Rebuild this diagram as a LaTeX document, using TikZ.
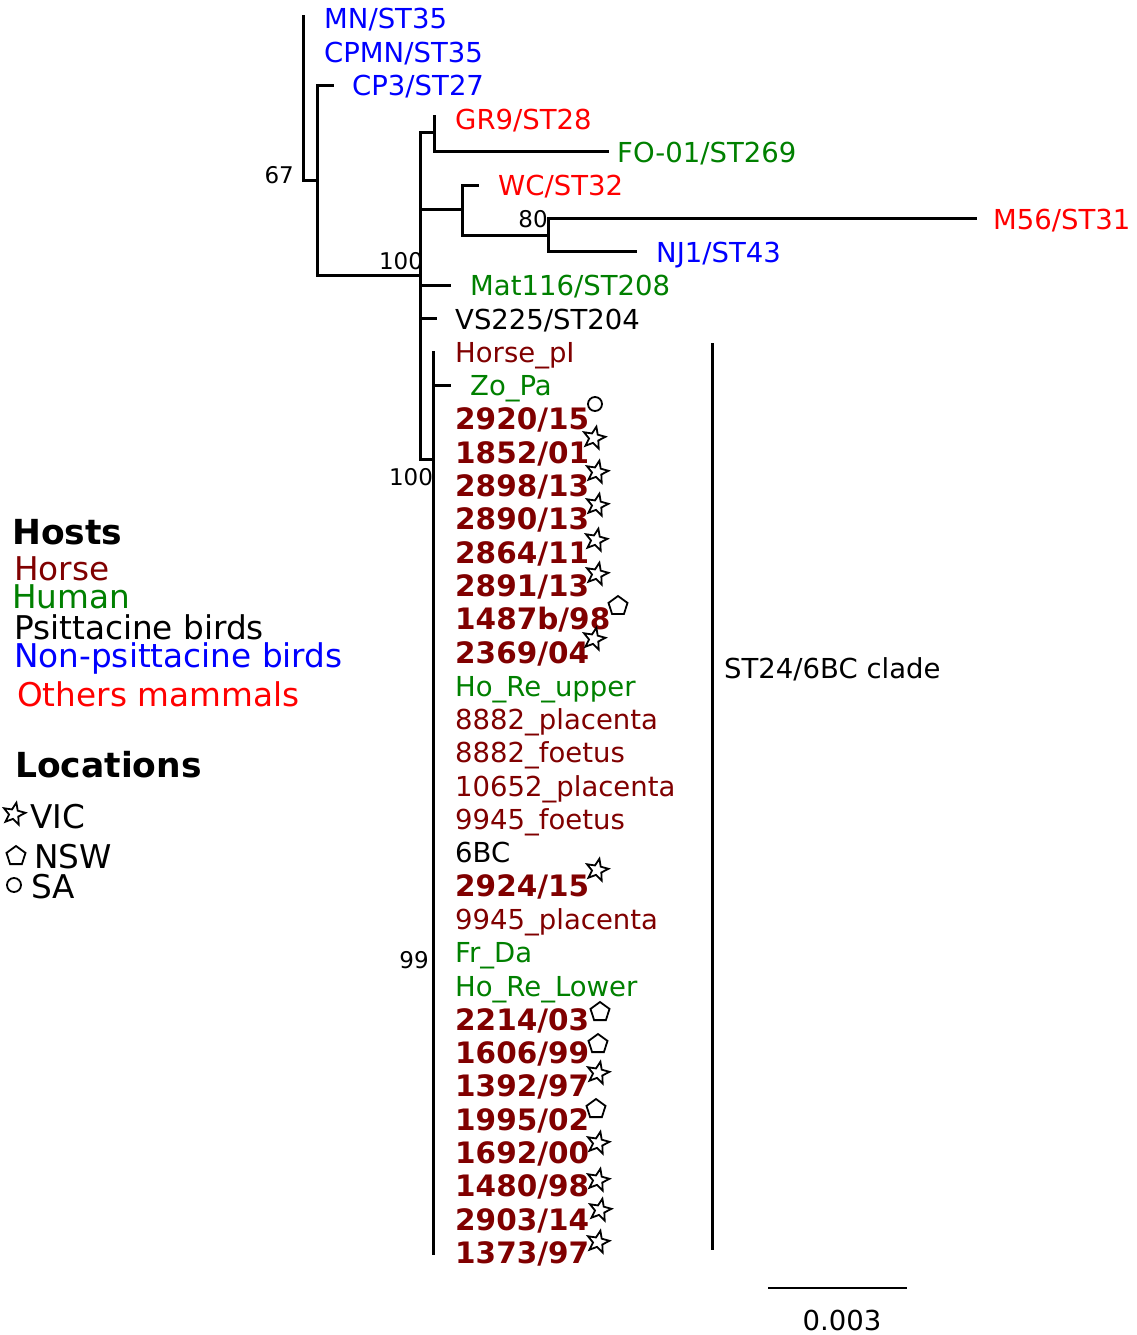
\documentclass[tikz,border=0pt]{standalone}
\usepackage{fontspec}
\setmainfont{DejaVu Sans}
\usetikzlibrary{shapes.geometric}
\definecolor{cblue}{RGB}{0,0,255}
\definecolor{cred}{RGB}{255,0,0}
\definecolor{cgreen}{RGB}{0,128,0}
\definecolor{chorse}{RGB}{128,0,0}
\begin{document}
\begin{tikzpicture}[x=1pt,y=-1pt,
  brl/.style={line width=3pt, line cap=rect, line join=miter},
  lf/.style={anchor=base west, inner sep=0pt, font=\fontsize{27.5}{30}\selectfont},
  bl/.style={anchor=base west, inner sep=0pt, font=\fontsize{29.5}{32}\selectfont\bfseries, text=chorse},
  boot/.style={inner sep=0pt, font=\fontsize{23}{26}\selectfont},
  leg/.style={anchor=base west, inner sep=0pt, font=\fontsize{32.7}{36}\selectfont},
  leghead/.style={anchor=base west, inner sep=0pt, font=\fontsize{34.5}{38}\selectfont\bfseries},
  vicmark/.style={star, star points=5, star point ratio=2.3, minimum size=23pt, inner sep=0pt, draw, line width=1.8pt, rotate=-12},
  nswmark/.style={regular polygon, regular polygon sides=5, minimum size=20pt, inner sep=0pt, draw, line width=1.8pt},
  samark/.style={circle, minimum size=14pt, inner sep=0pt, draw, line width=1.8pt},
]
\useasboundingbox[fill=white] (0,0) rectangle (1137,1335);

% ---------- tree coordinates ----------
\coordinate (tMN) at (303,17);
\coordinate (root) at (303,180);
\coordinate (n67) at (317,180);
\coordinate (tCP3) at (332,86);
\coordinate (n67b) at (317,275);
\coordinate (n100a) at (420,275);
\coordinate (vtop) at (420,133);
\coordinate (vbot) at (420,459);
\coordinate (nGRa) at (434,133);
\coordinate (tGR9) at (434,117);
\coordinate (nGRb) at (434,151);
\coordinate (tFO) at (607,151);
\coordinate (nWCa) at (420,209);
\coordinate (nWC) at (462,209);
\coordinate (tWC) at (477,185);
\coordinate (nWCb) at (462,235);
\coordinate (n80) at (548,235);
\coordinate (tM56) at (975,218);
\coordinate (n80b) at (548,251);
\coordinate (tNJ1) at (635,251);
\coordinate (nMat) at (420,285);
\coordinate (tMat) at (449,285);
\coordinate (nVS) at (420,318);
\coordinate (tVS) at (435,318);
\coordinate (n100b) at (433,459);
\coordinate (ctop) at (433,352);
\coordinate (cbot) at (433,1253);
\coordinate (nZo) at (433,385);
\coordinate (tZo) at (449,385);

% ---------- branches ----------
\draw[brl] (tMN) -- (root) -- (n67);
\draw[brl] (tCP3) -| (n67b) -- (n100a);
\draw[brl] (vtop) -- (vbot) -- (n100b);
\draw[brl] (vtop) -- (nGRa);
\draw[brl] (tGR9) -- (nGRb) -- (tFO);
\draw[brl] (nWCa) -- (nWC);
\draw[brl] (tWC) -| (nWCb) -- (n80);
\draw[brl] (tM56) -| (n80b) -- (tNJ1);
\draw[brl] (nMat) -- (tMat);
\draw[brl] (nVS) -- (tVS);
\draw[brl] (ctop) -- (cbot);
\draw[brl] (nZo) -- (tZo);

% ---------- bootstrap values ----------
\node[boot, anchor=east] (b67) at (294,175) {67};
\node[boot] (b100a) at (401,261) {100};
\node[boot] (b80) at (533,219) {80};
\node[boot] (b100b) at (411,477) {100};
\node[boot] (b99) at (414,960) {99};

% ---------- leaf labels ----------
\node[lf, text=cblue] (L0) at (324,{29+33.35*0}) {MN/ST35};
\node[lf, text=cblue] (L1) at (324,{29+33.35*1}) {CPMN/ST35};
\node[lf, text=cblue] (L2) at (352,{29+33.35*2}) {CP3/ST27};
\node[lf, text=cred] (L3) at (455,{29+33.35*3}) {GR9/ST28};
\node[lf, text=cgreen] (L4) at (617,{29+33.35*4}) {FO-01/ST269};
\node[lf, text=cred] (L5) at (498,{29+33.35*5}) {WC/ST32};
\node[lf, text=cred] (L6) at (993,{29+33.35*6}) {M56/ST31};
\node[lf, text=cblue] (L7) at (656,{29+33.35*7}) {NJ1/ST43};
\node[lf, text=cgreen] (L8) at (470,{29+33.35*8}) {Mat116/ST208};
\node[lf, text=black] (L9) at (455,{29+33.35*9}) {VS225/ST204};
\node[lf, text=chorse] (L10) at (455,{29+33.35*10}) {Horse\_pI};
\node[lf, text=cgreen] (L11) at (470,{29+33.35*11}) {Zo\_Pa};
\node[bl] (L12) at (455,{29.5+33.35*12}) {2920/15};
\node[bl] (L13) at (455,{29.5+33.35*13}) {1852/01};
\node[bl] (L14) at (455,{29.5+33.35*14}) {2898/13};
\node[bl] (L15) at (455,{29.5+33.35*15}) {2890/13};
\node[bl] (L16) at (455,{29.5+33.35*16}) {2864/11};
\node[bl] (L17) at (455,{29.5+33.35*17}) {2891/13};
\node[bl] (L18) at (455,{29.5+33.35*18}) {1487b/98};
\node[bl] (L19) at (455,{29.5+33.35*19}) {2369/04};
\node[lf, text=cgreen] (L20) at (455,{29+33.35*20}) {Ho\_Re\_upper};
\node[lf, text=chorse] (L21) at (455,{29+33.35*21}) {8882\_placenta};
\node[lf, text=chorse] (L22) at (455,{29+33.35*22}) {8882\_foetus};
\node[lf, text=chorse] (L23) at (455,{29+33.35*23}) {10652\_placenta};
\node[lf, text=chorse] (L24) at (455,{29+33.35*24}) {9945\_foetus};
\node[lf, text=black] (L25) at (455,{29+33.35*25}) {6BC};
\node[bl] (L26) at (455,{29.5+33.35*26}) {2924/15};
\node[lf, text=chorse] (L27) at (455,{29+33.35*27}) {9945\_placenta};
\node[lf, text=cgreen] (L28) at (455,{29+33.35*28}) {Fr\_Da};
\node[lf, text=cgreen] (L29) at (455,{29+33.35*29}) {Ho\_Re\_Lower};
\node[bl] (L30) at (455,{29.5+33.35*30}) {2214/03};
\node[bl] (L31) at (455,{29.5+33.35*31}) {1606/99};
\node[bl] (L32) at (455,{29.5+33.35*32}) {1392/97};
\node[bl] (L33) at (455,{29.5+33.35*33}) {1995/02};
\node[bl] (L34) at (455,{29.5+33.35*34}) {1692/00};
\node[bl] (L35) at (455,{29.5+33.35*35}) {1480/98};
\node[bl] (L36) at (455,{29.5+33.35*36}) {2903/14};
\node[bl] (L37) at (455,{29.5+33.35*37}) {1373/97};

% ---------- location marks ----------
\node[samark] (m12) at (595,404) {};
\node[vicmark] (m13) at (594,438) {};
\node[vicmark] (m14) at (597,472) {};
\node[vicmark] (m15) at (597,505) {};
\node[vicmark] (m16) at (596,540) {};
\node[vicmark] (m17) at (597,574) {};
\node[nswmark] (m18) at (618,606) {};
\node[vicmark] (m19) at (594,639) {};
\node[vicmark] (m26) at (597,870) {};
\node[nswmark] (m30) at (600,1012) {};
\node[nswmark] (m31) at (598,1044) {};
\node[vicmark] (m32) at (598,1073) {};
\node[nswmark] (m33) at (596,1109) {};
\node[vicmark] (m34) at (598,1143) {};
\node[vicmark] (m35) at (598,1180) {};
\node[vicmark] (m36) at (600,1210) {};
\node[vicmark] (m37) at (598,1242) {};

% ---------- clade bar ----------
\coordinate (cbT) at (712,343);
\coordinate (cbB) at (712,1250);
\draw[line width=3pt] (cbT) -- (cbB);
\node[lf] (clade) at (724,678) {ST24/6BC clade};

% ---------- scale bar ----------
\coordinate (sbL) at (768,1288);
\coordinate (sbR) at (907,1288);
\draw[line width=2.6pt] (sbL) -- (sbR);
\node[inner sep=0pt, font=\fontsize{27.5}{30}\selectfont] (sblab) at (842,1320) {0.003};

% ---------- legend ----------
\node[leghead] (hosts) at (12,544) {Hosts};
\node[leg, text=chorse] (gh) at (14,580) {Horse};
\node[leg, text=cgreen] (gm) at (12,608) {Human};
\node[leg, text=black] (gp) at (14,639) {Psittacine birds};
\node[leg, text=cblue] (gn) at (14,667) {Non-psittacine birds};
\node[leg, text=cred] (go) at (17,706) {Others mammals};
\node[leghead] (locs) at (15,777) {Locations};
\node[vicmark] (kv) at (14,814) {};
\node[leg] (lv) at (30,828) {VIC};
\node[nswmark] (kn) at (16,856) {};
\node[leg] (ln) at (34,868) {NSW};
\node[samark] (ks) at (14,885) {};
\node[leg] (ls) at (31,898) {SA};
\end{tikzpicture}
\end{document}
